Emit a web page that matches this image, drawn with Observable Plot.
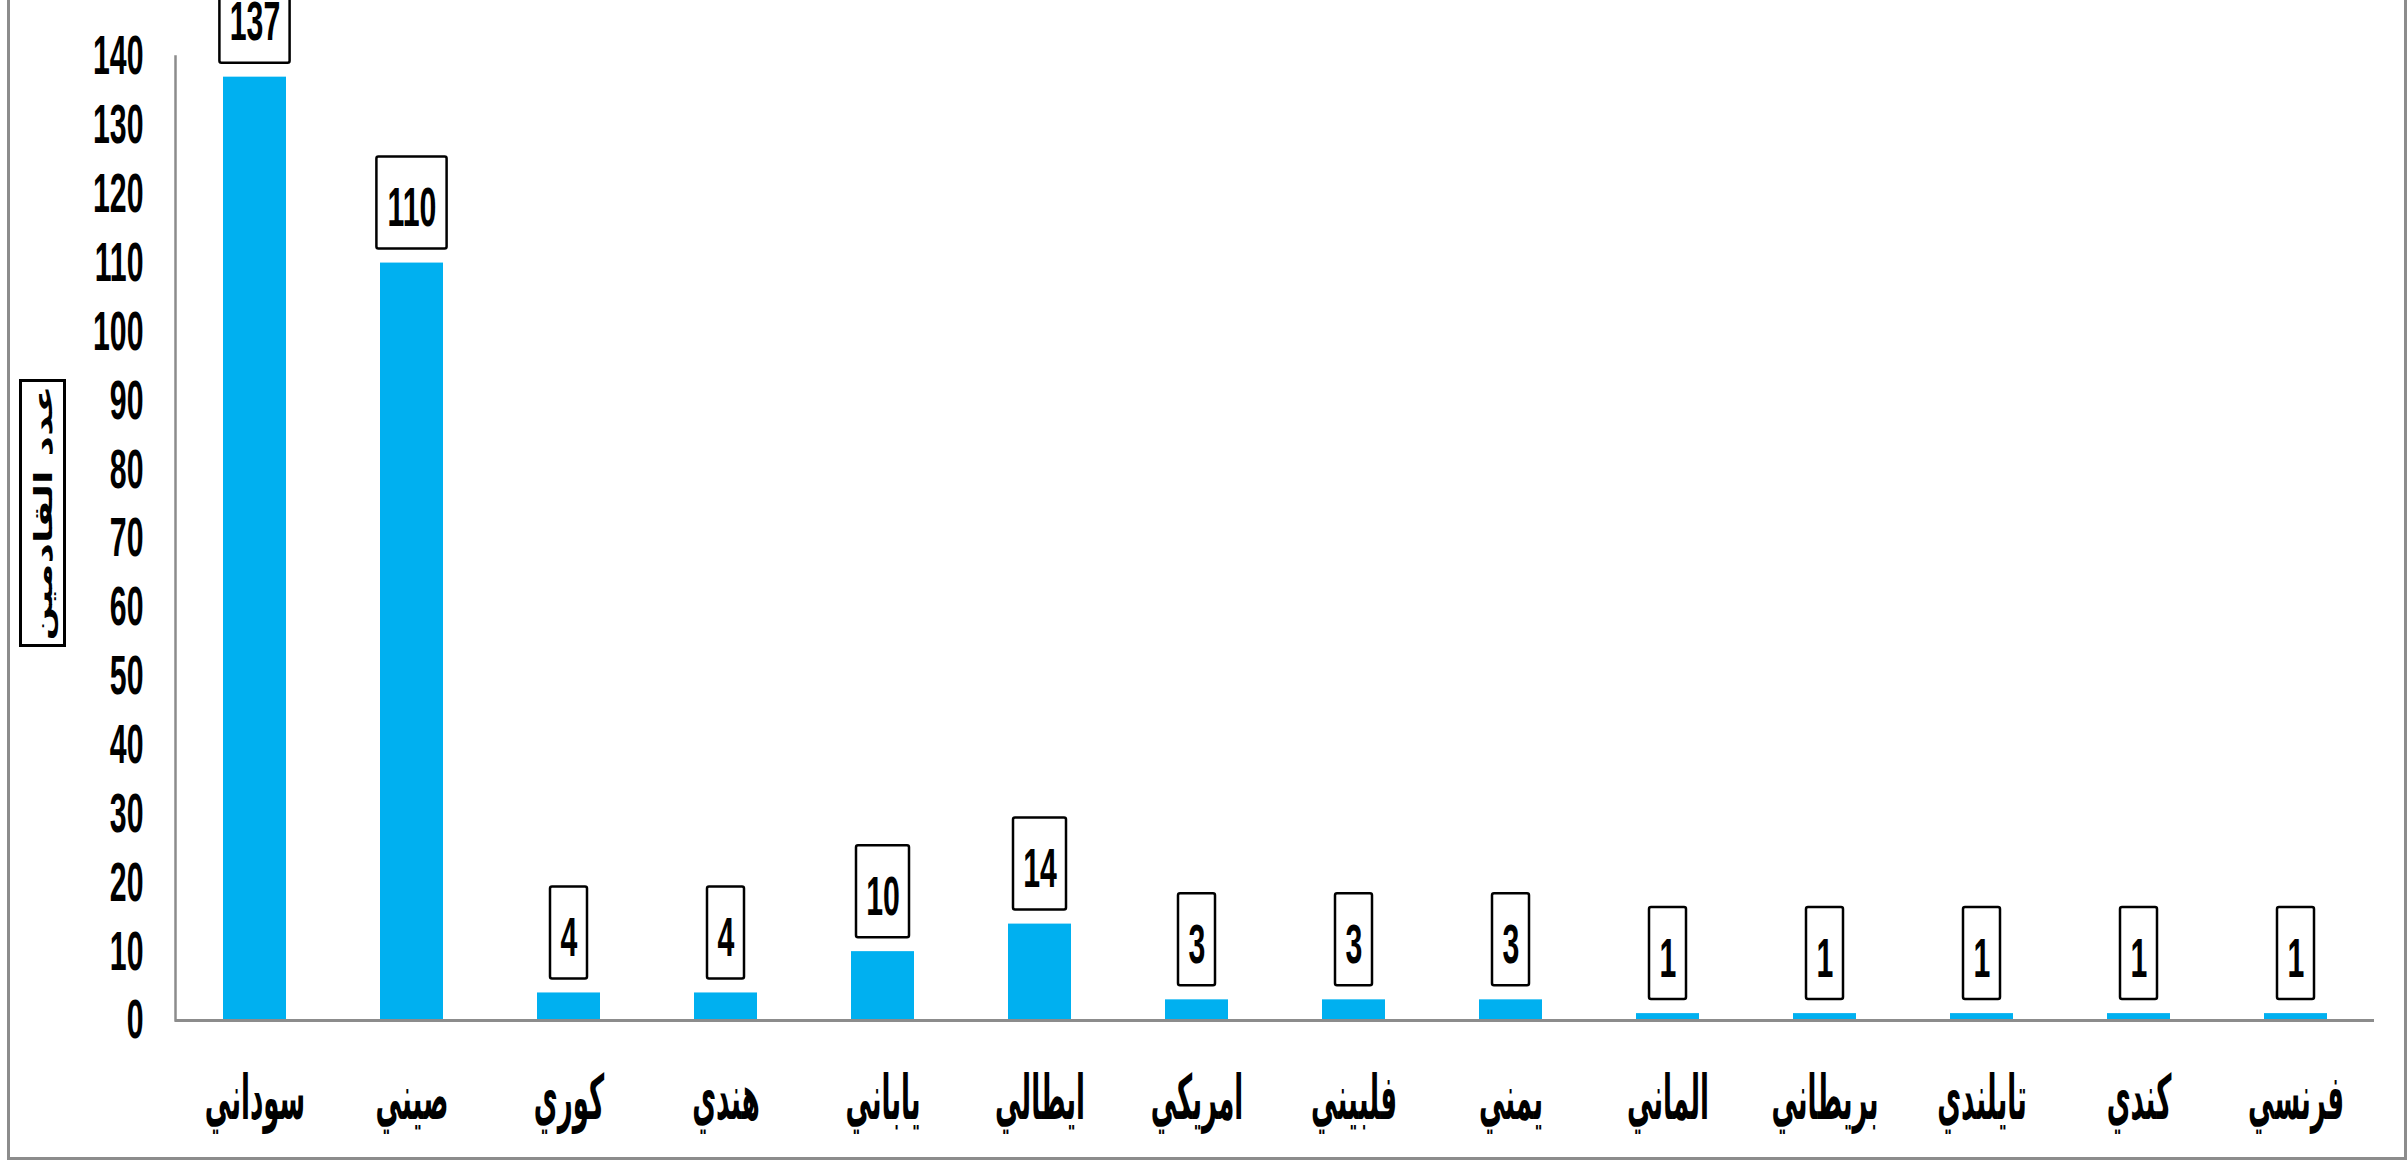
<!DOCTYPE html>
<html>
<head>
<meta charset="utf-8">
<script src="https://cdn.jsdelivr.net/npm/d3@7"></script>
<script src="https://cdn.jsdelivr.net/npm/@observablehq/plot@0.6"></script>
<style>
  html, body { margin: 0; padding: 0; background: #fff; overflow: hidden; }
  #wrap { position: relative; width: 2407px; height: 1160px; }
  #chart svg { display: block; }
  #border { position: absolute; left: 7px; top: -10px; width: 2400px; height: 1170px; box-sizing: border-box; border: 3px solid #8c8c8c; pointer-events: none; }
  #ytitle { position: absolute; left: 19px; top: 379px; width: 47px; height: 268px; box-sizing: border-box; border: 3px solid #000; background: #fff; }
  #ytitle span { position: absolute; left: 50%; top: 50%; white-space: nowrap; direction: rtl;
    font-family: "DejaVu Sans", sans-serif; font-size: 40px; font-weight: bold; color: #000;
    transform: translate(-50%, -50%) rotate(-90deg) scaleY(0.62); }
</style>
</head>
<body>
<div id="wrap">
  <div id="chart"></div>
  <div id="border"></div>
  <div id="ytitle"><span id="ytitleText"></span></div>
</div>
<script>
const nationalities = ["سوداني","صيني","كوري","هندي","ياباني","ايطالي","امريكي","فلبيني","يمني","الماني","بريطاني","تايلندي","كندي","فرنسي"];
const arrivals = [137, 110, 4, 4, 10, 14, 3, 3, 3, 1, 1, 1, 1, 1];
const yTicks = [0, 10, 20, 30, 40, 50, 60, 70, 80, 90, 100, 110, 120, 130, 140];
const yTitle = "عدد القادمين";

document.getElementById("ytitleText").textContent = yTitle;

const rows = nationalities.map((name, i) => ({name, value: arrivals[i], label: String(arrivals[i])}));

const boxInset = {1: 13, 2: 5, 3: -3.6};
const boxMarks = [1, 2, 3].map(k =>
  Plot.barY(rows.filter(d => d.label.length === k), {
    x: "name", y1: "value", y2: "value",
    insetTop: -106, insetBottom: 14, insetLeft: boxInset[k], insetRight: boxInset[k],
    fill: "white", stroke: "black", strokeWidth: 2.5, rx: 2
  })
);

const chart = Plot.plot({
  width: 2407,
  height: 1160,
  marginLeft: 175,
  marginRight: 33,
  marginTop: 56,
  marginBottom: 140,
  x: {domain: nationalities, paddingInner: 0.6, paddingOuter: 0.3},
  y: {domain: [0, 140]},
  marks: [
    Plot.barY(rows, {x: "name", y: "value", fill: "#00B0F0"}),
    ...boxMarks,
    Plot.text(rows, {x: "name", y: "value", text: "label", dy: -55, lineAnchor: "middle",
      fontSize: 56, fontWeight: "bold", fontFamily: "Liberation Sans", fill: "black"}),
    Plot.axisY(yTicks, {tickSize: 0, tickPadding: 32, fontSize: 56, fontWeight: "bold",
      fontFamily: "Liberation Sans", fill: "black", label: null}),
    Plot.axisX({tickSize: 0, tickPadding: 54, fontSize: 62, fontWeight: "bold",
      fontFamily: "DejaVu Sans", fill: "black", label: null}),
    Plot.frame({anchor: "left", stroke: "#8c8c8c", strokeWidth: 2.5}),
    Plot.ruleY([0], {stroke: "#8c8c8c", strokeWidth: 3})
  ]
});

document.getElementById("chart").appendChild(chart);

// horizontal compression of chart text, anchored at each text's own position
function squeeze(t, s) {
  const tr = t.getAttribute("transform");
  if (tr) {
    t.setAttribute("transform", tr + ` scale(${s},1)`);
  } else {
    const x = +(t.getAttribute("x") || 0), y = +(t.getAttribute("y") || 0);
    t.removeAttribute("x"); t.removeAttribute("y");
    t.setAttribute("transform", `translate(${x},${y}) scale(${s},1)`);
  }
}
const xLabelGroup = chart.querySelector('g[aria-label="x-axis tick label"]');
chart.querySelectorAll("text").forEach(t => {
  squeeze(t, xLabelGroup && xLabelGroup.contains(t) ? 0.42 : 0.54);
});
</script>
</body>
</html>
